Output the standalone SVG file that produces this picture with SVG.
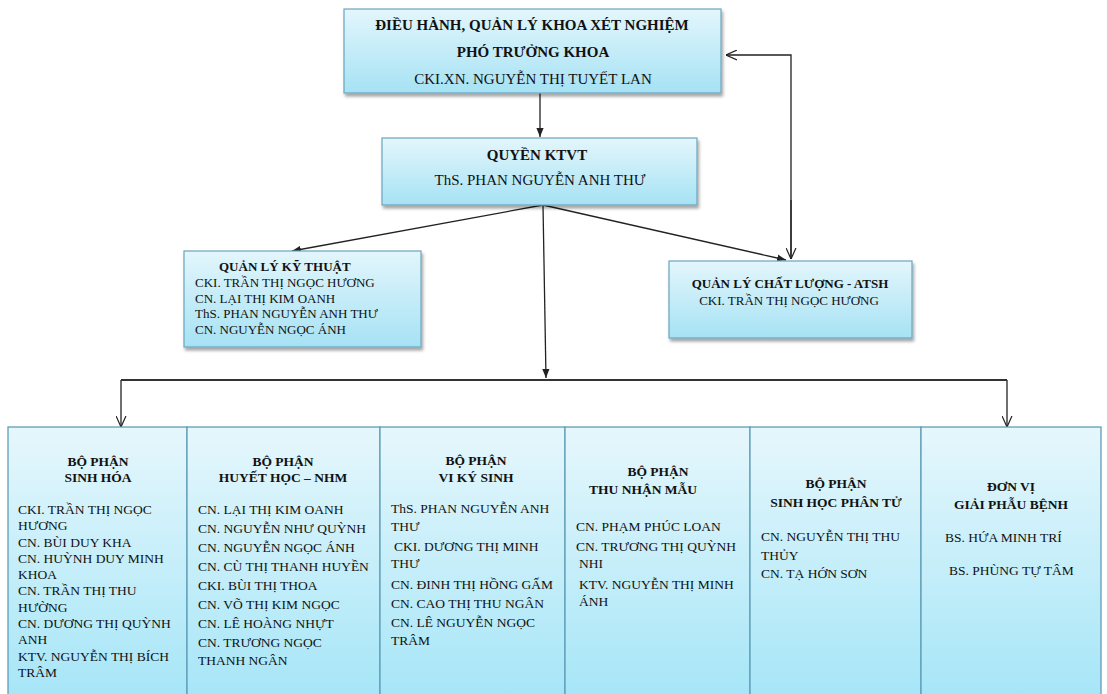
<svg xmlns="http://www.w3.org/2000/svg" width="1107" height="694" viewBox="0 0 1107 694">
<defs>
<linearGradient id="g" x1="0" y1="0" x2="0" y2="1"><stop offset="0" stop-color="#e3f6fc"/><stop offset="1" stop-color="#a6e2f4"/></linearGradient>
<linearGradient id="gc" x1="0" y1="0" x2="0" y2="1"><stop offset="0" stop-color="#e6f7fc"/><stop offset="1" stop-color="#a4e5f7"/></linearGradient>
<filter id="sh" x="-5%" y="-10%" width="115%" height="130%"><feDropShadow dx="1.5" dy="3" stdDeviation="1.8" flood-color="#000" flood-opacity="0.35"/></filter>
<marker id="af" viewBox="0 0 10 10" refX="10" refY="5" markerWidth="9" markerHeight="9" orient="auto" markerUnits="userSpaceOnUse"><path d="M0,1 L10,5 L0,9 z" fill="#222"/></marker>
<marker id="ao" viewBox="0 0 10 10" refX="10" refY="5" markerWidth="11" markerHeight="11" orient="auto" markerUnits="userSpaceOnUse"><path d="M0,0.5 L10,5 L0,9.5" fill="none" stroke="#222" stroke-width="1.1"/></marker>
</defs>
<style>
.box{fill:url(#g);stroke:#6aa6bf;stroke-width:1.2;filter:url(#sh)}
.col{fill:url(#gc);stroke:#5f9db7;stroke-width:1.3}
text{font-family:"Liberation Serif","Times New Roman",serif;fill:#111;font-size:13px}
.col ~ text{font-size:13.5px}
.b{font-weight:bold}
.c{text-anchor:middle}
.big{font-size:15px}
.ln{stroke:#222;stroke-width:1.3;fill:none}
</style>
<rect width="1107" height="694" fill="#fff"/>

<g id="connectors">
<line class="ln" x1="540" y1="93" x2="540" y2="137" marker-end="url(#af)"/>
<line class="ln" x1="543" y1="205" x2="292" y2="251" marker-end="url(#af)"/>
<line class="ln" x1="543" y1="205" x2="786" y2="260" marker-end="url(#af)"/>
<line class="ln" x1="543" y1="205" x2="546" y2="378" marker-end="url(#af)"/>
<polyline class="ln" points="791,259 791,55 726,55" marker-end="url(#ao)"/>
<line class="ln" x1="791" y1="200" x2="791" y2="259" marker-end="url(#ao)"/>
<line x1="121" y1="380" x2="1007" y2="380" stroke="#333" stroke-width="2"/>
<line class="ln" x1="121" y1="380" x2="121" y2="427" marker-end="url(#ao)"/>
<line class="ln" x1="1007" y1="380" x2="1007" y2="427" marker-end="url(#ao)"/>
</g>

<g id="top">
<rect class="box" x="344" y="9" width="377" height="84"/>
<text class="b c big" x="532" y="30">ĐIỀU HÀNH, QUẢN LÝ KHOA XÉT NGHIỆM</text>
<text class="b c big" x="533" y="57">PHÓ TRƯỞNG KHOA</text>
<text class="c big" x="533" y="84">CKI.XN. NGUYỄN THỊ TUYẾT LAN</text>
</g>

<g id="ktvt">
<rect class="box" x="382" y="138" width="315" height="67"/>
<text class="b c big" x="537" y="160">QUYỀN KTVT</text>
<text class="c big" x="540" y="185">ThS. PHAN NGUYỄN ANH THƯ</text>
</g>

<g id="qlkt">
<rect class="box" x="184" y="251" width="237" height="96"/>
<text class="b" x="219" y="271">QUẢN LÝ KỸ THUẬT</text>
<text x="195" y="287">CKI. TRẦN THỊ NGỌC HƯƠNG</text>
<text x="195" y="303">CN. LẠI THỊ KIM OANH</text>
<text x="195" y="318">ThS. PHAN NGUYỄN ANH THƯ</text>
<text x="195" y="334">CN. NGUYỄN NGỌC ÁNH</text>
</g>

<g id="qlcl">
<rect class="box" x="669" y="261" width="243" height="77"/>
<text class="b c" x="790" y="288">QUẢN LÝ CHẤT LƯỢNG - ATSH</text>
<text class="c" x="789" y="305">CKI. TRẦN THỊ NGỌC HƯƠNG</text>
</g>

<g id="sinhhoa">
<rect class="col" x="8" y="427" width="179" height="280"/>
<text class="b c" x="98" y="466">BỘ PHẬN</text>
<text class="b c" x="98" y="482">SINH HÓA</text>
<text x="18" y="514">CKI. TRẦN THỊ NGỌC</text>
<text x="18" y="530">HƯƠNG</text>
<text x="18" y="547">CN. BÙI DUY KHA</text>
<text x="18" y="563">CN. HUỲNH DUY MINH</text>
<text x="18" y="579">KHOA</text>
<text x="18" y="595">CN. TRẦN THỊ THU</text>
<text x="18" y="612">HƯỜNG</text>
<text x="18" y="628">CN. DƯƠNG THỊ QUỲNH</text>
<text x="18" y="644">ANH</text>
<text x="18" y="661">KTV. NGUYỄN THỊ BÍCH</text>
<text x="18" y="677">TRÂM</text>
</g>

<g id="huyethoc">
<rect class="col" x="187" y="427" width="193" height="280"/>
<text class="b c" x="283" y="466">BỘ PHẬN</text>
<text class="b c" x="283" y="482">HUYẾT HỌC – NHM</text>
<text x="198" y="514">CN. LẠI THỊ KIM OANH</text>
<text x="198" y="533">CN. NGUYỄN NHƯ QUỲNH</text>
<text x="198" y="552">CN. NGUYỄN NGỌC ÁNH</text>
<text x="198" y="571">CN. CÙ THỊ THANH HUYỀN</text>
<text x="198" y="590">CKI. BÙI THỊ THOA</text>
<text x="198" y="609">CN. VÕ THỊ KIM NGỌC</text>
<text x="198" y="628">CN. LÊ HOÀNG NHỰT</text>
<text x="198" y="647">CN. TRƯƠNG NGỌC</text>
<text x="198" y="665">THANH NGÂN</text>
</g>

<g id="vikysinh">
<rect class="col" x="380" y="427" width="185" height="280"/>
<text class="b c" x="476" y="465">BỘ PHẬN</text>
<text class="b c" x="476" y="482">VI KÝ SINH</text>
<text x="391" y="513">ThS. PHAN NGUYỄN ANH</text>
<text x="391" y="531">THƯ</text>
<text x="394" y="551">CKI. DƯƠNG THỊ MINH</text>
<text x="391" y="568">THƯ</text>
<text x="391" y="589">CN. ĐINH THỊ HỒNG GẤM</text>
<text x="391" y="608">CN. CAO THỊ THU NGÂN</text>
<text x="391" y="627">CN. LÊ NGUYỄN NGỌC</text>
<text x="391" y="645">TRÂM</text>
</g>

<g id="thunhanmau">
<rect class="col" x="565" y="427" width="185" height="280"/>
<text class="b c" x="658" y="476">BỘ PHẬN</text>
<text class="b" x="589" y="494">THU NHẬN MẪU</text>
<text x="576" y="531">CN. PHẠM PHÚC LOAN</text>
<text x="576" y="551">CN. TRƯƠNG THỊ QUỲNH</text>
<text x="579" y="568">NHI</text>
<text x="579" y="589">KTV. NGUYỄN THỊ MINH</text>
<text x="579" y="606">ÁNH</text>
</g>

<g id="shpt">
<rect class="col" x="750" y="427" width="171" height="280"/>
<text class="b c" x="836" y="488">BỘ PHẬN</text>
<text class="b c" x="836" y="507">SINH HỌC PHÂN TỬ</text>
<text x="761" y="541">CN. NGUYỄN THỊ THU</text>
<text x="761" y="560">THỦY</text>
<text x="761" y="578">CN. TẠ HỚN SƠN</text>
</g>

<g id="gpb">
<rect class="col" x="921" y="427" width="180" height="280"/>
<text class="b c" x="1011" y="491">ĐƠN VỊ</text>
<text class="b c" x="1011" y="509">GIẢI PHẪU BỆNH</text>
<text x="945" y="542">BS. HỨA MINH TRÍ</text>
<text x="949" y="575">BS. PHÙNG TỰ TÂM</text>
</g>
</svg>
